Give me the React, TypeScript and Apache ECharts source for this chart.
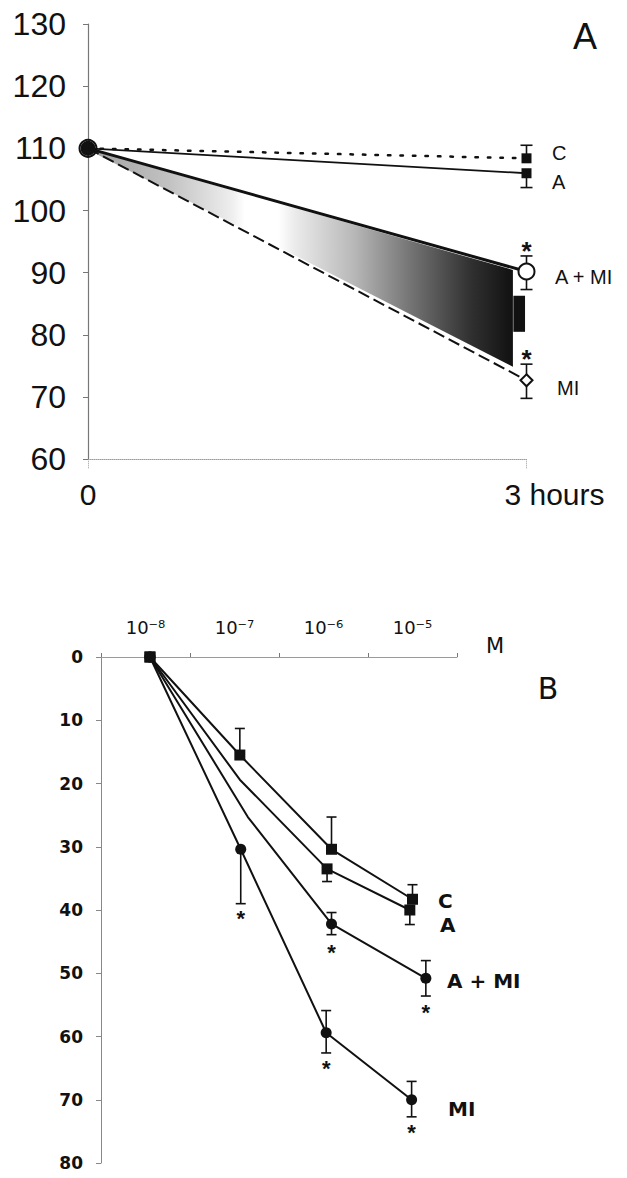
import React, { useEffect, useRef } from "react";
import * as echarts from "echarts";

// ---------- Panel A data ----------
const timeA = [0, 3];
const valA_C = [110, 108.4];
const valA_A = [110, 106.0];
const valA_AMI = [110, 90.2];
const valA_MI = [110, 72.7];
// [x, centre, low, high]
const errA = [
  [3, 108.4, 108.4, 110.5],
  [3, 106.0, 103.7, 106.0],
  [3, 90.2, 87.3, 92.7],
  [3, 72.7, 69.8, 75.3],
];
const starsA = [
  [3, 94.7],
  [3, 77.3],
];
const bandX = [0.04, 2.907];
const bandTop = [109.6, 90.45];
const bandBottom = [109.3, 74.9];
const blockX = [2.91, 2.99];
const blockY = [80.5, 86.3];

// ---------- Panel B data ----------
const doses = ["10⁻⁸", "10⁻⁷", "10⁻⁶", "10⁻⁵"];
const xB_C = [1.05, 2.06, 3.09, 4.0];
const yB_C = [0, 15.5, 30.4, 38.3];
const xB_A = [1.05, 2.06, 3.04, 3.97];
const yB_A = [0, 19.4, 33.5, 40.0];
const xB_AMI = [1.05, 2.15, 3.09, 4.15];
const yB_AMI = [0, 25.3, 42.2, 50.8];
const xB_MI = [1.05, 2.07, 3.03, 3.99];
const yB_MI = [0, 30.4, 59.4, 70.0];
const errB = [
  [2.06, 15.5, 11.3, 15.5],
  [3.09, 30.4, 25.3, 30.4],
  [4.0, 38.3, 36.0, 38.3],
  [3.04, 33.5, 33.5, 35.5],
  [3.97, 40.0, 40.0, 42.3],
  [3.09, 42.2, 40.4, 43.9],
  [4.15, 50.8, 48.0, 53.6],
  [2.07, 30.4, 30.4, 39.0],
  [3.03, 59.4, 55.9, 62.6],
  [3.99, 70.0, 67.1, 72.7],
];
const starsB = [
  [2.07, 40.4],
  [3.09, 45.8],
  [4.15, 55.2],
  [3.03, 64.1],
  [3.99, 74.2],
];

const INK = "#111";
const FA = "Liberation Sans, Arial, sans-serif";
const FB = "DejaVu Sans, sans-serif";

function zip(xs: number[], ys: number[], hidden: number[] = []) {
  return xs.map((x, i) =>
    hidden.includes(i) ? { value: [x, ys[i]], symbol: "none" } : { value: [x, ys[i]] }
  );
}

function errRender(capHalf: number, lw: number) {
  return (params: any, api: any) => {
    const x = api.value(0);
    const c = api.value(1);
    const lo = api.value(2);
    const hi = api.value(3);
    const a = api.coord([x, lo]);
    const b = api.coord([x, hi]);
    const st = { stroke: INK, lineWidth: lw };
    const children: any[] = [
      { type: "line", shape: { x1: a[0], y1: a[1], x2: b[0], y2: b[1] }, style: st },
    ];
    if (lo !== c)
      children.push({
        type: "line",
        shape: { x1: a[0] - capHalf, y1: a[1], x2: a[0] + capHalf, y2: a[1] },
        style: st,
      });
    if (hi !== c)
      children.push({
        type: "line",
        shape: { x1: b[0] - capHalf, y1: b[1], x2: b[0] + capHalf, y2: b[1] },
        style: st,
      });
    return { type: "group", children };
  };
}

function starRender(size: number) {
  return (params: any, api: any) => {
    const p = api.coord([api.value(0), api.value(1)]);
    return {
      type: "text",
      x: p[0],
      y: p[1] + size * 0.28,
      style: {
        text: "*",
        font: `bold ${size}px ${FA}`,
        fill: INK,
        align: "center",
        verticalAlign: "middle",
        textAlign: "center",
        textVerticalAlign: "middle",
      },
    };
  };
}

function label(text: string, x: number, y: number, font: string, align = "left") {
  return {
    type: "text",
    x,
    y,
    style: {
      text,
      font,
      fill: INK,
      align,
      verticalAlign: "middle",
      textAlign: align,
      textVerticalAlign: "middle",
    },
  };
}

export default function App() {
  const ref = useRef<HTMLDivElement>(null);
  useEffect(() => {
    if (!ref.current) return;
    const chart = echarts.init(ref.current, undefined, { renderer: "svg" });
    const bandRender = (params: any, api: any) => {
      const p0 = api.coord([bandX[0], bandTop[0]]);
      const p1 = api.coord([bandX[1], bandTop[1]]);
      const p2 = api.coord([bandX[1], bandBottom[1]]);
      const p3 = api.coord([bandX[0], bandBottom[0]]);
      const r0 = api.coord([blockX[0], blockY[1]]);
      const r1 = api.coord([blockX[1], blockY[0]]);
      return {
        type: "group",
        children: [
          {
            type: "polygon",
            shape: { points: [p0, p1, p2, p3] },
            style: {
              fill: new echarts.graphic.LinearGradient(0, 0, 1, 0, [
                { offset: 0, color: "#a2a2a2" },
                { offset: 0.18, color: "#c2c2c2" },
                { offset: 0.33, color: "#eeeeee" },
                { offset: 0.36, color: "#ffffff" },
                { offset: 0.44, color: "#ffffff" },
                { offset: 0.48, color: "#ebebeb" },
                { offset: 0.62, color: "#b8b8b8" },
                { offset: 0.76, color: "#727272" },
                { offset: 0.9, color: "#303030" },
                { offset: 1, color: "#111" },
              ]),
            },
          },
          {
            type: "rect",
            shape: { x: r0[0], y: r0[1], width: r1[0] - r0[0], height: r1[1] - r0[1] },
            style: { fill: INK },
          },
        ],
      };
    };

    const option: any = {
      animation: false,
      backgroundColor: "#fff",
      grid: [
        { left: 88, top: 24, width: 438.5, height: 435.3 },
        { left: 101, top: 657, width: 356, height: 506 },
      ],
      xAxis: [
        {
          gridIndex: 0,
          type: "value",
          min: 0,
          max: 3,
          interval: 3,
          axisLine: { onZero: false, lineStyle: { color: "#9a9a9a", type: "dotted", width: 1 } },
          axisTick: { show: true, length: 10, lineStyle: { color: "#9a9a9a", type: "dotted" } },
          splitLine: { show: false },
          axisLabel: {
            margin: 20,
            fontSize: 30,
            fontFamily: FA,
            color: INK,
            formatter: (v: number) => (v === 0 ? "0" : "{h|3 hours}"),
            rich: { h: { fontSize: 30, fontFamily: FA, color: INK, padding: [0, 0, 0, 56] } },
          },
        },
        {
          gridIndex: 1,
          type: "category",
          data: doses,
          position: "top",
          boundaryGap: true,
          axisLine: { lineStyle: { color: "#9a9a9a", width: 1 } },
          axisTick: { show: true, length: 4, lineStyle: { color: "#777" } },
          axisLabel: { margin: 21, fontSize: 18, fontFamily: FB, color: INK },
          splitLine: { show: false },
        },
        {
          gridIndex: 1,
          type: "value",
          min: 0.5,
          max: 4.5,
          show: false,
          splitLine: { show: false },
        },
      ],
      yAxis: [
        {
          gridIndex: 0,
          type: "value",
          min: 60,
          max: 130,
          interval: 10,
          axisLine: { show: true, lineStyle: { color: "#777", width: 1.2 } },
          axisTick: { show: true, length: 5, lineStyle: { color: "#777" } },
          splitLine: { show: false },
          axisLabel: { margin: 22, fontSize: 32, fontFamily: FA, color: INK },
        },
        {
          gridIndex: 1,
          type: "value",
          inverse: true,
          min: 0,
          max: 80,
          interval: 10,
          axisLine: { show: true, onZero: false, lineStyle: { color: "#888", width: 1 } },
          axisTick: { show: true, length: 5, lineStyle: { color: "#888" } },
          splitLine: { show: false },
          axisLabel: { margin: 18, fontSize: 17, fontWeight: "bold", fontFamily: FB, color: INK },
        },
      ],
      series: [
        // Panel A shading
        {
          type: "custom",
          xAxisIndex: 0,
          yAxisIndex: 0,
          data: [[bandX[0], bandTop[0]]],
          renderItem: bandRender,
          z: 1,
          silent: true,
        },
        {
          name: "C",
          type: "line",
          xAxisIndex: 0,
          yAxisIndex: 0,
          data: zip(timeA, valA_C, [0]),
          lineStyle: { color: INK, width: 2.5, type: [2.5, 10], cap: "round" },
          symbol: "rect",
          symbolSize: 10,
          itemStyle: { color: INK },
          z: 3,
        },
        {
          name: "A",
          type: "line",
          xAxisIndex: 0,
          yAxisIndex: 0,
          data: zip(timeA, valA_A, [0]),
          lineStyle: { color: INK, width: 1.8 },
          symbol: "rect",
          symbolSize: 10,
          itemStyle: { color: INK },
          z: 3,
        },
        {
          name: "MI",
          type: "line",
          xAxisIndex: 0,
          yAxisIndex: 0,
          data: [
            { value: [timeA[0], valA_MI[0]], symbol: "circle", symbolSize: 13, itemStyle: { color: INK, borderColor: INK } },
            { value: [timeA[1], valA_MI[1]], symbol: "diamond", symbolSize: 12 },
          ],
          lineStyle: { color: INK, width: 2, type: [12, 5] },
          itemStyle: { color: "#fff", borderColor: INK, borderWidth: 2 },
          z: 3,
        },
        {
          name: "A + MI",
          type: "line",
          xAxisIndex: 0,
          yAxisIndex: 0,
          data: [
            { value: [timeA[0], valA_AMI[0]], symbolSize: 17, itemStyle: { color: "rgba(0,0,0,0)" } },
            { value: [timeA[1], valA_AMI[1]], symbolSize: 16 },
          ],
          symbol: "circle",
          lineStyle: { color: INK, width: 3 },
          itemStyle: { color: "#fff", borderColor: INK, borderWidth: 2 },
          z: 4,
        },
        {
          type: "custom",
          xAxisIndex: 0,
          yAxisIndex: 0,
          data: errA,
          renderItem: errRender(6, 1.6),
          z: 2,
          silent: true,
        },
        {
          type: "custom",
          xAxisIndex: 0,
          yAxisIndex: 0,
          data: starsA,
          renderItem: starRender(26),
          z: 5,
          silent: true,
        },
        // Panel B
        {
          name: "C ",
          type: "line",
          xAxisIndex: 2,
          yAxisIndex: 1,
          data: zip(xB_C, yB_C),
          symbol: "rect",
          symbolSize: 11,
          lineStyle: { color: INK, width: 2 },
          itemStyle: { color: INK },
          z: 3,
        },
        {
          name: "A ",
          type: "line",
          xAxisIndex: 2,
          yAxisIndex: 1,
          data: zip(xB_A, yB_A, [1]),
          symbol: "rect",
          symbolSize: 11,
          lineStyle: { color: INK, width: 2 },
          itemStyle: { color: INK },
          z: 3,
        },
        {
          name: "A + MI ",
          type: "line",
          xAxisIndex: 2,
          yAxisIndex: 1,
          data: zip(xB_AMI, yB_AMI, [1]),
          symbol: "circle",
          symbolSize: 11,
          lineStyle: { color: INK, width: 2 },
          itemStyle: { color: INK },
          z: 3,
        },
        {
          name: "MI ",
          type: "line",
          xAxisIndex: 2,
          yAxisIndex: 1,
          data: zip(xB_MI, yB_MI),
          symbol: "circle",
          symbolSize: 11,
          lineStyle: { color: INK, width: 2 },
          itemStyle: { color: INK },
          z: 3,
        },
        {
          type: "custom",
          xAxisIndex: 2,
          yAxisIndex: 1,
          data: errB,
          renderItem: errRender(5, 1.6),
          z: 2,
          silent: true,
        },
        {
          type: "custom",
          xAxisIndex: 2,
          yAxisIndex: 1,
          data: starsB,
          renderItem: starRender(22),
          z: 5,
          silent: true,
        },
      ],
      graphic: [
        label("A", 585, 36, `36px ${FA}`, "center"),
        label("C", 552, 153, `20px ${FA}`),
        label("A", 552, 182, `20px ${FA}`),
        label("A + MI", 555, 277, `20px ${FA}`),
        label("MI", 557, 388, `20px ${FA}`),
        label("M", 495, 646, `21px ${FB}`, "center"),
        label("B", 548, 688, `30px ${FB}`, "center"),
        label("C", 438, 901, `bold 20px ${FB}`),
        label("A", 440, 925, `bold 20px ${FB}`),
        label("A + MI", 447, 981, `bold 20px ${FB}`),
        label("MI", 448, 1109, `bold 20px ${FB}`),
      ],
    };
    chart.setOption(option);
    return () => chart.dispose();
  }, []);
  return (
    <div
      ref={ref}
      style={{ position: "fixed", left: 0, top: 0, width: 627, height: 1178, background: "#fff" }}
    />
  );
}
